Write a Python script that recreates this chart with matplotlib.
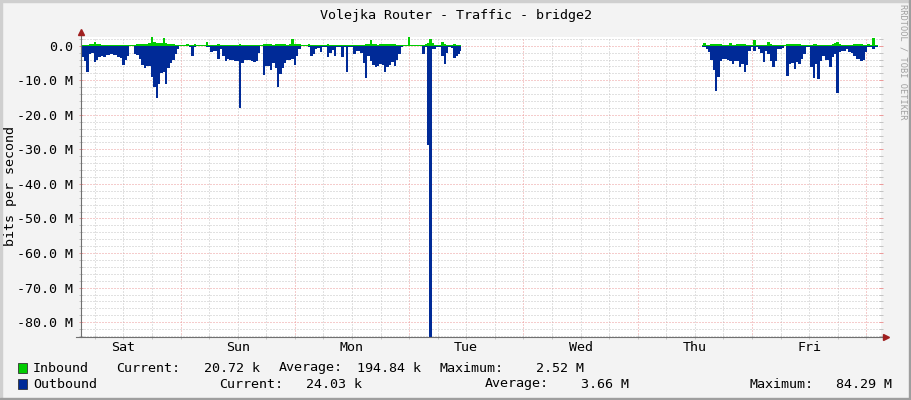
import numpy as np
import matplotlib
matplotlib.use('Agg')
import matplotlib.pyplot as plt
from matplotlib.patches import Rectangle

# samples every half hour, time in hours counted from Saturday 00:00
STEP = 0.5

# first block of data: Sat early morning .. Tue late morning (values in Mbit/s)
seg1_start = 3.0
out_seg1 = [
    3.4, 3.4, 4.5, 7.7, 2.5, 2.0, 4.8, 4.0, 3.2, 3.0, 3.4, 2.8, 2.6, 2.5, 2.8, 2.6,
    3.2, 3.5, 5.5, 4.2, 3.0, 0.1, 0.1, 2.4, 2.6, 3.9, 5.5, 6.5, 5.8, 6.0, 9.0, 12.0,
    15.2, 11.0, 8.0, 7.5, 11.0, 6.5, 5.0, 4.0, 2.5, 1.0, 0.1, 0.1, 0.1, 0.1, 0.3, 2.9,
    0.3, 0.1, 0.1, 0.1, 0.2,
    0.3, 0.5, 1.9, 1.5, 1.5, 3.9, 1.0, 3.0, 4.3, 3.9, 4.0, 4.0, 4.3, 4.5, 18.0, 5.0,
    4.0, 4.0, 4.0, 4.5, 4.6, 4.3, 2.0, 0.1, 8.5, 6.0, 5.8, 7.0, 5.0, 6.5, 11.9, 8.2,
    6.5, 5.0, 4.0, 4.0, 3.8, 5.5, 3.0, 1.0, 0.1, 0.1, 0.1, 0.3, 2.9, 2.5, 1.0, 0.8,
    1.9, 0.5, 0.5, 3.4, 2.0,
    1.2, 3.0, 0.5, 0.5, 3.4, 0.5, 7.7, 0.3, 0.4, 2.4, 1.5, 1.5, 2.0, 5.0, 9.2, 3.0,
    4.5, 5.5, 6.3, 5.8, 5.2, 5.5, 7.7, 6.3, 5.5, 4.8, 5.8, 4.0, 2.5, 0.3, 0.1, 0.1,
    0.1, 0.1, 0.1, 0.1, 0.2, 0.2, 2.4, 0.5, 28.7, 84.29, 1.0, 1.0, 0.5, 0.5, 3.0, 5.3,
    2.0, 0.5, 0.8, 3.6, 3.0, 2.4, 1.5,
]
in_seg1 = [
    0.3, 0.3, 0.2, 0.3, 0.4, 0.5, 1.2, 0.5, 0.5, 0.2, 0.1, 0.1, 0.1, 0.1, 0.2, 0.1,
    0.1, 0.1, 0.1, 0.2, 0.1, 0.1, 0.1, 0.2, 0.5, 0.5, 0.5, 0.4, 0.5, 0.8, 2.6, 1.0,
    0.8, 0.8, 0.9, 2.1, 0.8, 0.6, 0.5, 0.6, 0.3, 0.1, 0.1, 0.1, 0.1, 0.5, 0.3, 0.1,
    0.5, 0.1, 0.1, 0.1, 0.2,
    1.0, 0.3, 0.2, 0.1, 0.1, 0.5, 0.1, 0.1, 0.1, 0.1, 0.1, 0.1, 0.1, 0.2, 0.6, 0.2,
    0.1, 0.1, 0.1, 0.1, 0.1, 0.1, 0.1, 0.1, 0.6, 0.6, 0.6, 0.6, 0.1, 0.6, 0.6, 0.6,
    0.6, 0.5, 0.3, 0.6, 1.9, 0.6, 0.4, 0.4, 0.1, 0.1, 0.1, 0.4, 0.2, 0.1, 0.1, 0.1,
    0.1, 0.1, 0.1, 0.6, 0.3,
    0.1, 0.1, 0.1, 0.1, 0.1, 0.1, 0.1, 0.1, 0.1, 0.1, 0.1, 0.1, 0.1, 0.3, 0.4, 0.5,
    1.7, 0.6, 0.5, 0.3, 0.5, 0.5, 0.5, 0.4, 0.5, 0.5, 0.5, 0.3, 0.1, 0.1, 0.1, 0.3,
    2.52, 0.1, 0.1, 0.2, 0.1, 0.1, 0.3, 0.4, 0.8, 1.9, 0.8, 0.3, 0.1, 0.1, 1.2, 0.4,
    0.1, 0.1, 0.1, 0.4, 0.2, 0.1, 0.1,
]

# second block: Thu afternoon .. end of graph
seg2_start = 133.5
out_seg2 = [
    0.3, 0.5, 1.0, 1.9, 4.0, 7.0, 13.2, 9.0, 4.3, 3.9, 3.9, 4.0, 4.3, 5.3, 4.3, 4.5,
    6.3, 5.3, 7.7, 5.5, 1.5, 0.5, 1.4, 0.5, 1.0, 2.0, 4.8, 1.5, 2.4, 4.3, 6.3, 4.3,
    1.0, 1.0, 0.8, 0.1, 8.7, 5.3, 5.0, 6.8, 4.8, 5.3, 3.9, 2.4, 0.5, 0.5, 6.3, 9.2,
    5.3, 9.6, 4.3, 2.9, 4.0, 4.0, 6.3, 3.4, 2.4, 13.8, 1.9, 1.5, 1.4, 1.0, 1.9, 2.0,
    2.9, 3.9, 3.9, 4.3, 4.0, 1.9, 0.5, 0.3, 1.0, 0.3, 0.3,
]
in_seg2 = [
    0.2, 0.7, 0.3, 0.2, 0.5, 0.5, 0.5, 0.5, 0.4, 0.1, 0.1, 0.2, 0.7, 0.3, 0.2, 0.5,
    0.5, 0.5, 0.4, 0.1, 0.3, 0.3, 1.6, 0.2, 0.1, 0.1, 0.1, 0.3, 1.0, 0.4, 0.1, 0.1,
    0.1, 0.1, 0.1, 0.1, 0.5, 0.5, 0.5, 0.5, 0.5, 0.5, 0.3, 0.1, 0.1, 0.1, 0.3, 0.4,
    0.4, 0.3, 0.1, 0.1, 0.1, 0.1, 0.1, 0.5, 0.8, 1.1, 0.5, 0.1, 0.1, 0.1, 0.1, 0.1,
    0.4, 0.6, 0.6, 0.6, 0.2, 0.1, 0.5, 0.2, 2.2, 0.3, 0.1,
]

days = ['Sat', 'Sun', 'Mon', 'Tue', 'Wed', 'Thu', 'Fri']
t_min, t_max = 3.1, 171.1
y_min, y_max = -84.29, 2.52

legend_rows = [
    # name, colour, [(text, x pixel), ...]
    ('Inbound', '#00CC00', [('Current:', 116), ('20.72 k', 204), ('Average:', 279),
                            ('194.84 k', 357), ('Maximum:', 440), ('2.52 M', 536)]),
    ('Outbound', '#002A97', [('Current:', 219), ('24.03 k', 306), ('Average:', 485),
                             ('3.66 M', 581), ('Maximum:', 749), ('84.29 M', 836)]),
]

W, H = 911, 400
BG = '#F3F3F3'
MONO = 'DejaVu Sans Mono'
FS = 9.6
GRID = '#c4c4c4'
MGRID = '#ec9a9a'
AXIS = '#707070'
ARROW = '#a02020'

fig = plt.figure(figsize=(W / 100, H / 100), dpi=100, facecolor=BG)
ax = fig.add_axes([81 / W, (H - 337) / H, 800 / W, 300 / H])
ax.set_facecolor('white')

for start, out, inb in [(seg1_start, out_seg1, in_seg1), (seg2_start, out_seg2, in_seg2)]:
    t = start + STEP * np.arange(len(out))
    ax.fill_between(t, 0, -np.array(out), step='mid', color='#002A97', lw=0, zorder=3)
    ax.fill_between(t, 0, np.array(inb), step='mid', color='#00CC00', lw=0, zorder=3)

ax.set_xlim(t_min, t_max)
ax.set_ylim(y_min, y_max)

# grid: every 6 hours / 2 M, red dotted at midnight / 10 M
dots = (0, (1, 2))
for h in np.arange(6, t_max, 6):
    ax.axvline(h, color=MGRID if h % 24 == 0 else GRID, lw=0.72, ls=dots, zorder=1)
for v in np.arange(-84, 3, 2):
    ax.axhline(v, color=MGRID if v % 10 == 0 else GRID, lw=0.72, ls=dots, zorder=1)

# ticks and labels
noons = [12 + 24 * i for i in range(len(days))]
ax.set_xticks(noons)
ax.set_xticklabels(days, fontfamily=MONO, fontsize=FS)
ax.set_xticks(np.arange(6, t_max, 6), minor=True)
ax.xaxis.remove_overlapping_locs = False
ax.tick_params(axis='x', which='major', length=0, pad=3)
ax.tick_params(axis='x', which='minor', length=3, direction='inout', color=GRID, width=0.72)

yt = np.arange(-80, 1, 10)
ax.set_yticks(yt)
ax.set_yticklabels(['0.0' if v == 0 else '%.1f M' % v for v in yt], fontfamily=MONO, fontsize=FS)
ax.set_yticks(np.arange(-84, 3, 2), minor=True)
ax.tick_params(axis='y', which='major', length=3, direction='inout', color=MGRID, width=0.72,
               pad=4.5, right=True)
ax.tick_params(axis='y', which='minor', length=3, direction='inout', color=GRID, width=0.72,
               right=True)

for s in ax.spines.values():
    s.set_visible(False)

# axes with arrows
ax.plot([0, 0], [0, 1 + 5 / 300], transform=ax.transAxes, color=AXIS, lw=0.8,
        clip_on=False, zorder=5)
ax.plot([-5 / 800, 1 + 5 / 800], [0, 0], transform=ax.transAxes, color=AXIS, lw=0.8,
        clip_on=False, zorder=5)
ax.plot([0], [1 + 5 / 300], transform=ax.transAxes, marker='^', ms=4, color=ARROW,
        clip_on=False, zorder=6)
ax.plot([1 + 5 / 800], [0], transform=ax.transAxes, marker='>', ms=4, color=ARROW,
        clip_on=False, zorder=6)

# texts
fig.text(456 / W, 1 - 15 / H, 'Volejka Router - Traffic - bridge2', ha='center', va='center',
         fontfamily=MONO, fontsize=FS)
fig.text(11 / W, 1 - 186 / H, 'bits per second', rotation=90, ha='center', va='center',
         fontfamily=MONO, fontsize=FS)
fig.text(903 / W, 1 - 4 / H, 'RRDTOOL / TOBI OETIKER', rotation=270, ha='center', va='top',
         fontfamily=MONO, fontsize=6.2, color='#a0a0a0')

for i, (name, col, parts) in enumerate(legend_rows):
    yc = 368 + 16 * i
    fig.add_artist(Rectangle((18 / W, 1 - (yc + 5) / H), 9 / W, 10 / H, facecolor=col,
                             edgecolor='#333333', lw=0.6, transform=fig.transFigure))
    fig.text(33 / W, 1 - yc / H, name, ha='left', va='center', fontfamily=MONO, fontsize=FS)
    for txt, px in parts:
        fig.text(px / W, 1 - yc / H, txt, ha='left', va='center', fontfamily=MONO, fontsize=FS)

# 3d frame around the image
fig.add_artist(Rectangle((0, 1 - 2 / H), 1, 2 / H, color='#CFCFCF', transform=fig.transFigure))
fig.add_artist(Rectangle((0, 0), 2 / W, 1, color='#CFCFCF', transform=fig.transFigure))
fig.add_artist(Rectangle((0, 0), 1, 2 / H, color='#9E9E9E', transform=fig.transFigure))
fig.add_artist(Rectangle((1 - 2 / W, 0), 2 / W, 1, color='#9E9E9E', transform=fig.transFigure))

fig.savefig('out.png', dpi=100, facecolor=BG)
